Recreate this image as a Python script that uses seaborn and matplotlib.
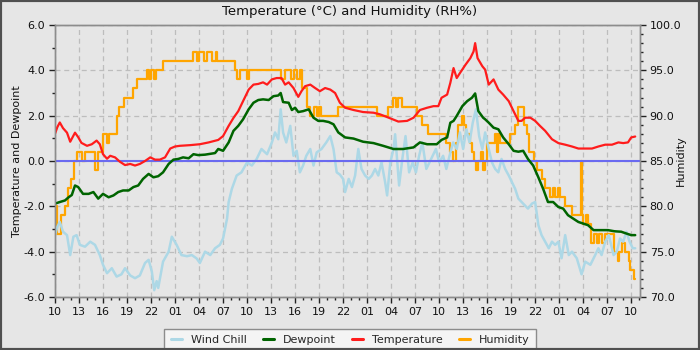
import matplotlib
matplotlib.use("Agg")
import matplotlib.pyplot as plt
from matplotlib.ticker import MultipleLocator, FixedLocator, FormatStrFormatter
from matplotlib.patches import Rectangle
from matplotlib.lines import Line2D
import seaborn as sns

# ---------------- data (hours since 10:00 on day 1) ----------------
tick_labels = ["10", "13", "16", "19", "22", "01", "04", "07",
               "10", "13", "16", "19", "22", "01", "04", "07",
               "10", "13", "16", "19", "22", "01", "04", "07", "10"]

temp_hours = [0.0, 0.3, 0.6, 1.0, 1.5, 1.9, 2.5, 2.9, 3.3, 4.0, 4.6, 5.2, 5.6, 6.0, 6.5, 6.9,
              7.5, 8.1, 8.75, 9.4, 10.0, 10.6, 11.25, 11.9, 12.5, 13.1, 13.75, 14.4, 15.0, 15.6,
              16.9, 18.1, 19.2, 20.4, 21.0, 21.7, 22.3, 22.9, 23.5, 24.2, 24.8, 25.4, 26.0, 26.5,
              27.1, 27.7, 28.3, 28.75, 29.2, 29.8, 30.4, 30.8, 31.25, 31.9, 32.5, 33.1, 33.75,
              34.4, 35.0, 35.6, 36.25, 37.3, 38.5, 39.8, 40.6, 41.7, 42.9, 44.0, 44.8, 45.6,
              46.5, 47.3, 47.9, 48.3, 49.0, 49.4, 49.8, 50.2, 50.6, 51.3, 51.9, 52.3, 52.5, 52.8,
              53.4, 53.75, 54.2, 54.8, 55.4, 56.0, 56.7, 57.3, 57.9, 58.3, 58.75, 59.4, 60.0,
              60.6, 61.25, 62.1, 62.9, 63.75, 64.6, 65.4, 66.25, 67.1, 67.9, 68.75, 69.6, 70.4,
              71.0, 71.6, 72.0, 72.5]
temperature = [1.2, 1.5, 1.7, 1.45, 1.25, 0.85, 1.25, 1.05, 0.8, 0.67, 0.74, 0.9, 0.74, 0.3, 0.1, 0.23,
               0.16, -0.03, -0.18, -0.13, -0.2, -0.13, 0.0, 0.16, 0.06, 0.06, 0.16, 0.55, 0.64, 0.67,
               0.7, 0.74, 0.82, 0.93, 1.1, 1.55, 1.9, 2.2, 2.64, 3.15, 3.37, 3.4, 3.47, 3.37,
               3.6, 3.66, 3.66, 3.37, 3.47, 3.22, 2.83, 3.08, 3.3, 3.37, 3.22, 3.08, 3.22,
               3.15, 3.0, 2.57, 2.35, 2.25, 2.16, 2.13, 2.06, 1.91, 1.74, 1.77, 1.91, 2.25,
               2.35, 2.42, 2.42, 2.79, 2.93, 3.45, 4.1, 3.66, 3.88, 4.25, 4.54, 4.83, 5.2, 4.54,
               4.18, 4.03, 3.37, 3.6, 3.15, 2.93, 2.64, 2.2, 1.77, 1.77, 1.91, 1.91, 1.77,
               1.55, 1.33, 0.96, 0.79, 0.72, 0.64, 0.55, 0.55, 0.55, 0.64, 0.72, 0.72, 0.82,
               0.79, 0.82, 1.04, 1.08]

dew_hours = [0.0, 0.6, 1.25, 1.7, 2.1, 2.5, 2.9, 3.5, 4.2, 4.8, 5.4, 6.0, 6.7, 7.3, 7.9, 8.5, 9.2,
             9.8, 10.4, 11.0, 11.7, 12.3, 12.9, 13.5, 14.2, 14.8, 15.4, 16.0, 16.7, 17.3, 17.9,
             18.75, 20.0, 20.4, 21.0, 21.7, 22.3, 22.9, 23.5, 24.2, 24.8, 25.4, 26.0, 26.7, 27.3,
             27.9, 28.2, 28.5, 29.2, 29.6, 30.0, 30.4, 31.0, 31.7, 32.3, 32.9, 33.5, 34.2, 34.8,
             35.4, 36.25, 37.3, 38.5, 39.8, 41.0, 42.3, 43.5, 44.8, 45.6, 46.5, 47.7, 48.3, 49.0,
             49.4, 49.8, 50.2, 50.9, 51.5, 52.1, 52.5, 52.9, 53.5, 53.75, 54.2, 54.8, 55.4, 56.0,
             56.7, 57.3, 57.9, 58.5, 59.1, 59.75, 60.4, 61.0, 61.6, 62.25, 62.9, 63.5, 64.1,
             64.75, 65.4, 66.0, 66.6, 67.3, 67.9, 68.5, 69.1, 69.9, 70.75, 71.4, 72.0, 72.5]
dewpoint = [-1.88, -1.81, -1.74, -1.6, -1.5, -1.08, -1.15, -1.45, -1.45, -1.37, -1.66, -1.45, -1.6,
            -1.52, -1.37, -1.3, -1.3, -1.15, -1.08, -0.79, -0.57, -0.72, -0.67, -0.5, -0.13, 0.06,
            0.09, 0.16, 0.12, 0.3, 0.26, 0.28, 0.35, 0.53, 0.45, 0.82, 1.33, 1.55, 1.84, 2.28, 2.57,
            2.69, 2.72, 2.69, 2.86, 2.89, 3.0, 2.6, 2.57, 2.25, 2.35, 2.16, 2.2, 2.28, 1.91, 1.77,
            1.77, 1.72, 1.62, 1.26, 1.04, 0.99, 0.85, 0.79, 0.67, 0.53, 0.53, 0.6, 0.82, 0.74,
            0.74, 0.93, 1.04, 1.69, 1.77, 1.99, 2.42, 2.64, 2.79, 2.98, 2.2, 1.91, 1.84, 1.69,
            1.47, 1.4, 1.04, 0.74, 0.45, 0.41, 0.45, 0.09, -0.2, -0.72, -1.23, -1.81, -1.81,
            -2.03, -2.1, -2.39, -2.54, -2.69, -2.76, -2.83, -3.05, -3.05, -3.05, -3.05, -3.1,
            -3.12, -3.2, -3.27, -3.27]

chill_hours = [0.0, 0.3, 0.6, 1.0, 1.5, 1.9, 2.3, 2.7, 3.1, 3.75, 4.4, 5.0, 5.6, 6.0, 6.5, 7.1,
               7.7, 8.3, 8.75, 9.4, 10.0, 10.6, 11.25, 11.7, 12.1, 12.4, 12.7, 12.9, 13.5, 14.2,
               14.6, 15.2, 15.8, 16.5, 17.1, 17.7, 18.1, 18.75, 19.4, 20.0, 20.6, 21.0, 21.5,
               21.7, 22.1, 22.7, 23.3, 24.0, 24.6, 25.2, 25.8, 26.5, 27.1, 27.5, 27.9, 28.2, 28.5,
               28.9, 29.4, 29.8, 30.2, 30.6, 31.0, 31.4, 31.9, 32.3, 32.7, 33.3, 33.9, 34.4, 34.8,
               35.2, 35.6, 36.0, 36.25, 36.7, 37.1, 37.5, 37.9, 38.3, 38.75, 39.2, 39.6, 40.0,
               40.4, 40.8, 41.25, 41.5, 41.9, 42.3, 42.5, 43.0, 43.4, 43.8, 44.25, 44.7, 45.1,
               45.5, 45.9, 46.4, 46.8, 47.2, 47.6, 48.0, 48.5, 48.9, 49.3, 49.75, 50.2, 50.6,
               51.0, 51.4, 51.8, 52.2, 52.6, 53.0, 53.4, 53.75, 54.2, 54.6, 55.0, 55.4, 55.8,
               56.25, 56.7, 57.1, 57.5, 57.9, 58.5, 59.1, 59.6, 60.0, 60.4, 60.8, 61.25, 61.7,
               62.1, 62.5, 62.9, 63.3, 63.75, 64.2, 64.6, 65.2, 65.8, 66.25, 66.9, 67.5, 67.9,
               68.3, 68.75, 69.2, 69.8, 70.2, 70.6, 71.0, 71.4, 71.8, 72.2, 72.5]
wind_chill = [-3.27, -2.9, -2.69, -3.12, -3.27, -4.15, -3.34, -3.27, -3.7, -3.78, -3.56, -3.7, -4.15,
              -4.58, -4.95, -4.73, -5.1, -5.0, -4.73, -5.05, -5.17, -5.05, -4.5, -4.36, -4.88, -5.7,
              -5.3, -5.6, -4.44, -4.0, -3.34, -3.7, -4.15, -4.2, -4.15, -4.3, -4.5, -4.0, -4.15,
              -3.85, -3.7, -3.42, -2.54, -1.81, -1.23, -0.64, -0.5, -0.06, -0.2, 0.09, 0.53, 0.3,
              0.82, 1.26, 0.96, 2.28, 1.26, 0.82, 1.55, 0.23, 0.45, -0.5, -0.2, 0.23, 0.53, -0.2,
              0.38, 0.53, 0.82, 1.1, 0.53, -0.5, -0.6, -0.79, -1.37, -0.79, -1.15, -0.64, 0.53,
              -0.35, -0.64, -0.79, -0.64, -0.35, -0.64, -0.06, -0.93, -1.52, -0.06, 0.53, 1.18,
              -1.08, 0.09, 1.1, -0.5, -0.06, -0.5, 0.23, 0.82, -0.35, -0.06, 0.23, 0.53, -0.06,
              0.23, -0.35, 0.23, 0.82, 0.53, 1.26, 0.53, 1.4, 0.82, 1.69, 2.28, 1.1, 0.53, 1.26,
              0.53, -0.06, -0.35, -0.5, 0.09, -0.35, -0.64, -0.93, -1.23, -1.66, -1.88, -2.1,
              -1.88, -1.81, -2.83, -3.27, -3.56, -3.85, -3.56, -3.7, -3.56, -4.29, -3.27, -4.15,
              -4.0, -4.29, -5.0, -4.44, -4.58, -4.15, -3.85, -4.15, -3.56, -3.27, -4.15, -4.0,
              -3.42, -3.56, -3.12, -3.56, -3.85, -3.85]

hum_hours = [0.0, 0.3, 0.7, 1.2, 1.6, 2.0, 2.4, 2.8, 3.4, 3.7, 5.0, 5.4, 6.0, 6.5, 6.8, 7.7, 8.0,
             8.6, 9.7, 10.3, 11.5, 11.8, 12.0, 12.4, 12.6, 13.5, 17.3, 17.8, 18.0, 18.6, 19.0,
             19.6, 20.1, 20.3, 22.5, 22.7, 23.1, 24.0, 24.3, 28.3, 28.7, 29.5, 29.9, 30.3, 30.6,
             30.9, 31.5, 31.9, 32.4, 32.7, 33.0, 33.3, 35.4, 40.2, 41.6, 42.2, 42.6, 42.9, 43.4,
             45.2, 45.8, 46.6, 48.8, 49.4, 49.7, 50.1, 50.4, 50.8, 51.1, 51.3, 51.9, 52.1, 52.4,
             52.6, 52.8, 53.2, 53.5, 53.7, 54.0, 55.0, 55.2, 55.4, 55.6, 56.9, 57.5, 57.9, 58.6,
             59.0, 59.2, 59.8, 60.2, 60.8, 61.25, 61.9, 62.2, 62.5, 62.8, 63.1, 63.75, 64.6,
             65.7, 65.8, 66.0, 66.4, 66.6, 67.0, 67.4, 67.7, 68.0, 68.3, 68.75, 69.8, 70.3, 70.5,
             70.8, 71.25, 71.7, 71.9, 72.3, 72.5]
humidity = [80, 77, 79, 80, 82, 83, 85, 86, 85, 86, 84, 86, 88, 87, 88, 90, 91,
            92, 93, 94, 95, 94, 95, 94, 95, 96, 97, 96, 97, 96, 97,
            96, 97, 96, 95, 94, 95, 94, 95, 94, 95, 94, 95, 94, 95,
            93, 91, 90, 91, 90, 91, 90, 91, 90, 91, 92, 91, 92, 91,
            90, 89, 88, 87, 86, 85, 87, 89, 90, 89, 88, 87, 86, 85,
            84, 85, 86, 84, 85, 87, 88, 86, 88, 87, 88, 89, 91, 89,
            88, 86, 85, 84, 83, 82, 81, 82, 81, 82, 81, 80, 79,
            85, 79, 78, 79, 78, 76, 77, 76, 77, 76, 77, 75, 74, 75,
            76, 75, 74, 73, 72, 72]

zero_level = 0.0

# ---------------- style ----------------
sns.set_theme(style="ticks")
plt.rcParams['font.family'] = ['DejaVu Sans']
BG = '#e6e6e6'
C_CHILL = '#add8e6'
C_DEW = '#006400'
C_TEMP = '#ff1c1c'
C_HUM = '#ffa500'
C_ZERO = '#6a6af0'

fig = plt.figure(figsize=(7, 3.5), dpi=100, facecolor=BG)
ax2 = fig.add_axes([55/700, 53/350, 585/700, 272/350])
ax = ax2.twinx()
ax2.set_facecolor(BG)
ax.patch.set_visible(False)

# humidity on the back axis (right scale)
sns.lineplot(x=hum_hours, y=humidity, ax=ax2, color=C_HUM, linewidth=1.6,
             drawstyle='steps-post', legend=False, estimator=None, sort=False)

# temperature-scale series on the front axis
sns.lineplot(x=chill_hours, y=wind_chill, ax=ax, color=C_CHILL, linewidth=1.8,
             legend=False, estimator=None, sort=False)
ax.axhline(zero_level, color=C_ZERO, linewidth=1.5, zorder=2.1)
sns.lineplot(x=dew_hours, y=dewpoint, ax=ax, color=C_DEW, linewidth=1.8,
             legend=False, estimator=None, sort=False, zorder=2.2)
sns.lineplot(x=temp_hours, y=temperature, ax=ax, color=C_TEMP, linewidth=1.6,
             legend=False, estimator=None, sort=False, zorder=2.3)

# axes ranges / ticks
ax.set_xlim(0, 73.1)
ax2.set_xlim(0, 73.1)
ax.set_ylim(-6, 6)
ax2.set_ylim(70, 100)

ax2.xaxis.set_major_locator(FixedLocator([3 * i for i in range(len(tick_labels))]))
ax2.set_xticklabels(tick_labels)
ax2.xaxis.set_minor_locator(MultipleLocator(1))

ax.yaxis.tick_left()
ax.yaxis.set_label_position('left')
ax2.yaxis.tick_right()
ax2.yaxis.set_label_position('right')

ax.yaxis.set_major_locator(MultipleLocator(2))
ax.yaxis.set_minor_locator(MultipleLocator(1))
ax.yaxis.set_major_formatter(FormatStrFormatter('%.1f'))
ax2.yaxis.set_major_locator(MultipleLocator(5))
ax2.yaxis.set_minor_locator(MultipleLocator(1))
ax2.yaxis.set_major_formatter(FormatStrFormatter('%.1f'))

for a in (ax, ax2):
    a.tick_params(which='major', length=4, width=1, color='#222222', labelsize=8,
                  labelcolor='#111111', pad=3)
    a.tick_params(which='minor', length=2, width=1, color='#222222')
    for s in a.spines.values():
        s.set_color('#8c8c8c')
        s.set_linewidth(1)

ax.set_xlabel('')
ax2.set_xlabel('')
ax.set_ylabel('Temperature and Dewpoint', fontsize=8, color='#111111',
              rotation=90, va='center', ha='center')
ax2.set_ylabel('Humidity', fontsize=8, color='#111111', rotation=90, va='center', ha='center')
ax.yaxis.set_label_coords((17 - 55) / 585, 0.5)
ax2.yaxis.set_label_coords((681 - 55) / 585, 0.5)

ax2.grid(True, which='major', linestyle=(0, (4, 3)), color='#bdbdbd', linewidth=0.9)
ax2.set_axisbelow(True)
ax.grid(False)

fig.text(0.5, 1 - 12/350, 'Temperature (°C) and Humidity (RH%)', ha='center', va='center',
         fontsize=9.5, color='#111111')

handles = [Line2D([], [], color=C_CHILL, lw=2.2), Line2D([], [], color=C_DEW, lw=2.2),
           Line2D([], [], color=C_TEMP, lw=2.2), Line2D([], [], color=C_HUM, lw=2.2)]
labels = ['Wind Chill', 'Dewpoint', 'Temperature', 'Humidity']
leg = fig.legend(handles, labels, loc='lower center', bbox_to_anchor=(350 / 700, -2 / 350),
                 ncol=4, frameon=True, fancybox=False, edgecolor='#8c8c8c', facecolor='#f4f4f4',
                 framealpha=1, fontsize=8, handlelength=1.0, handletextpad=0.8,
                 columnspacing=1.45, borderpad=0.6, borderaxespad=0)
leg.get_frame().set_linewidth(1)

fig.patches.append(Rectangle((0, 0), 1, 1, transform=fig.transFigure, fill=False,
                             edgecolor='#505050', linewidth=3, zorder=10))

fig.savefig('out.png', dpi=100, facecolor=BG)
